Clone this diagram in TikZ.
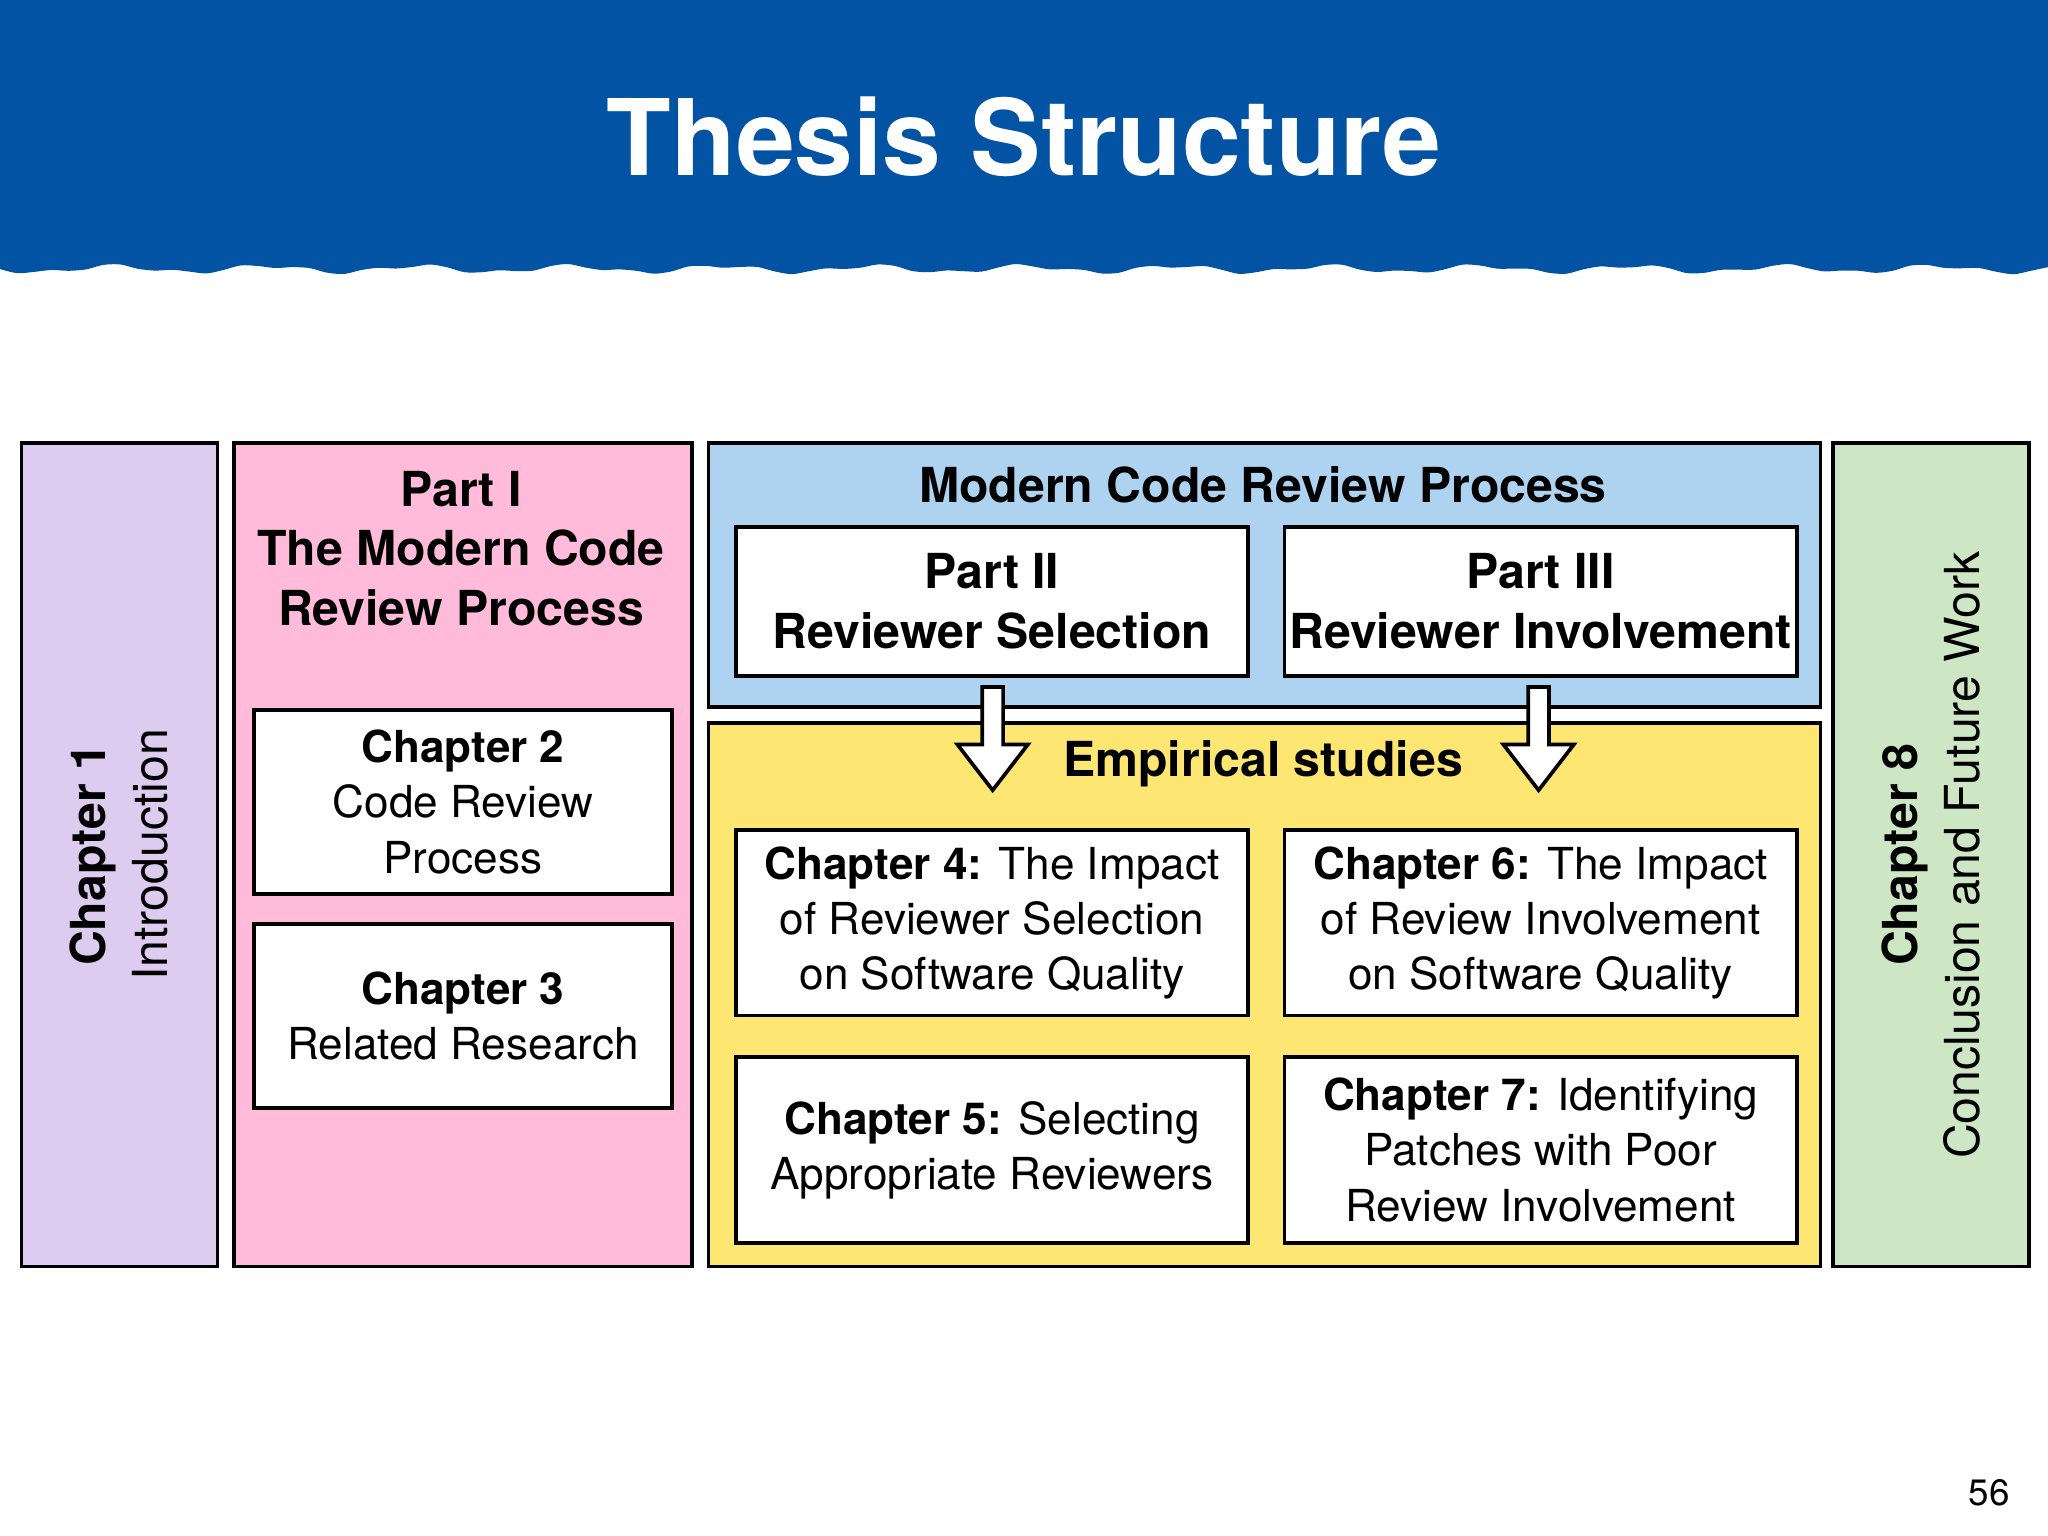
\documentclass[tikz,border=0pt]{standalone}
\usepackage{fontspec}
\setmainfont{TeX Gyre Heros}
\definecolor{banner}{HTML}{0353A4}
\definecolor{lilac}{HTML}{DDCBF0}
\definecolor{pinkbg}{HTML}{FFBBD9}
\definecolor{bluebg}{HTML}{AED3F1}
\definecolor{yellowbg}{HTML}{FDE772}
\definecolor{greenbg}{HTML}{CDE7C4}
\begin{document}
\begin{tikzpicture}[x=0.01cm,y=-0.01cm,
  frame/.style={draw=black,line width=0.8pt,anchor=north west,inner sep=0pt},
  box/.style={frame,fill=white,align=center,font=\fontsize{9.6}{12}\selectfont},
  blockarrow/.style={draw=black,line width=0.8pt,fill=white}]
\useasboundingbox (0,0) rectangle (1568,1176);
% banner
\fill[banner] (0,0) -- (1568,0) -- (1568,208)
  -- plot[domain=1568:0,samples=120,smooth] (\x,{206+2.5*sin(\x*3.1)+1.5*sin(\x*7.3)}) -- cycle;
\node[text=white,font=\fontsize{23}{28}\bfseries\selectfont] (title) at (784,105) {Thesis Structure};
% Chapter 1
\node[frame,fill=lilac,minimum width=1.5cm,minimum height=6.3cm] (c1) at (15,338) {};
\node[rotate=90,align=center,font=\fontsize{10.5}{13.5}\selectfont] (c1t) at (c1.center) {\textbf{Chapter 1}\\Introduction};
% Part I
\node[frame,fill=pinkbg,minimum width=3.5cm,minimum height=6.3cm] (p1) at (178,338) {};
\node[align=center,font=\fontsize{10.5}{13}\bfseries\selectfont] (p1t) at (353,420) {Part I\\The Modern Code\\Review Process};
\node[box,minimum width=3.2cm,minimum height=1.41cm] (c2) at (193,542) {\textbf{Chapter 2}\\Code Review\\Process};
\node[box,minimum width=3.2cm,minimum height=1.41cm] (c3) at (193,706) {\textbf{Chapter 3}\\Related Research};
% Modern code review process
\node[frame,fill=bluebg,minimum width=8.51cm,minimum height=2.02cm] (mcr) at (541,338) {};
\node[font=\fontsize{10.5}{13}\bfseries\selectfont] (mcrt) at (967,371) {Modern Code Review Process};
\node[box,minimum width=3.92cm,minimum height=1.14cm,font=\fontsize{10.5}{13}\bfseries\selectfont] (p2) at (562,402) {Part II\\Reviewer Selection};
\node[box,minimum width=3.92cm,minimum height=1.14cm,font=\fontsize{10.5}{13}\bfseries\selectfont] (p3) at (982,402) {Part III\\Reviewer Involvement};
% Empirical studies
\node[frame,fill=yellowbg,minimum width=8.51cm,minimum height=4.16cm] (emp) at (541,552) {};
\node[font=\fontsize{10.5}{13}\bfseries\selectfont] (empt) at (967,585) {Empirical studies};
\node[box,minimum width=3.92cm,minimum height=1.42cm] (c4) at (562,634) {\textbf{Chapter 4:} The Impact\\of Reviewer Selection\\on Software Quality};
\node[box,minimum width=3.92cm,minimum height=1.42cm] (c6) at (982,634) {\textbf{Chapter 6:} The Impact\\of Review Involvement\\on Software Quality};
\node[box,minimum width=3.92cm,minimum height=1.42cm] (c5) at (562,808) {\textbf{Chapter 5:} Selecting\\Appropriate Reviewers};
\node[box,minimum width=3.92cm,minimum height=1.42cm] (c7) at (982,808) {\textbf{Chapter 7:} Identifying\\Patches with Poor\\Review Involvement};
% block arrows
\foreach \cx in {760,1178}
  \draw[blockarrow] (\cx-8,526) -- (\cx+8,526) -- (\cx+8,570) -- (\cx+27,570)
    -- (\cx,605) -- (\cx-27,570) -- (\cx-8,570) -- cycle;
% Chapter 8
\node[frame,fill=greenbg,minimum width=1.5cm,minimum height=6.3cm] (c8) at (1402,338) {};
\node[rotate=90,align=center,font=\fontsize{10.5}{13.5}\selectfont] (c8t) at (c8.center) {\textbf{Chapter 8}\\Conclusion and Future Work};
\node[font=\fontsize{8}{10}\selectfont] (pg) at (1523,1143) {56};
\end{tikzpicture}
\end{document}
